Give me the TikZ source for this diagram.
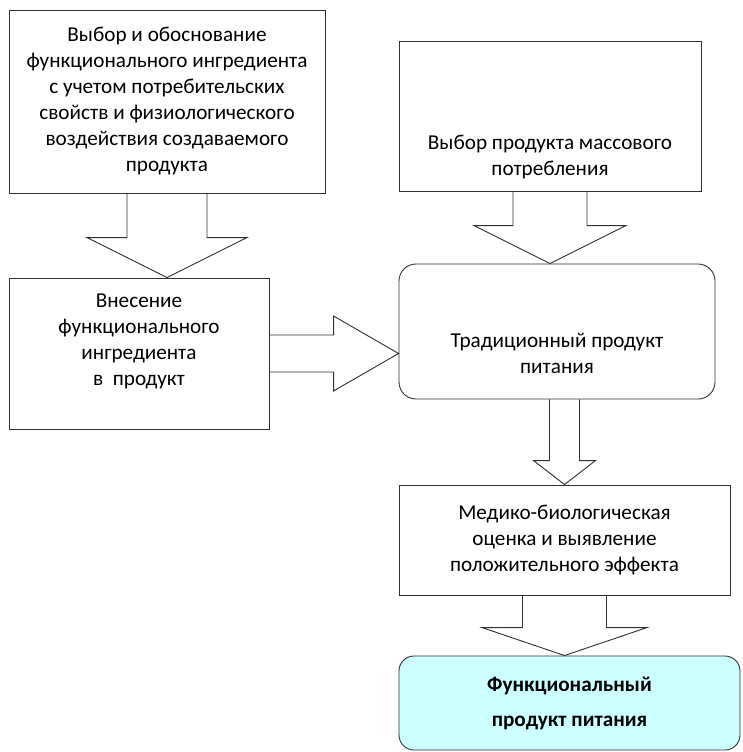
\documentclass[tikz,border=0pt]{standalone}
\usepackage{fontspec}
\setmainfont{Carlito}
\usepackage{xcolor}
\usetikzlibrary{calc}

\definecolor{boxline}{HTML}{303030}
\definecolor{resultfill}{HTML}{CCFFFF}

\tikzset{
  stagebox/.style={draw=boxline, line width=0.9pt, rectangle, inner sep=0pt},
  roundbox/.style={stagebox, rounded corners=17pt},
  stagetext/.style={align=center, font=\fontsize{21.2}{26}\selectfont},
  blockarrow/.style={draw=boxline, line width=0.9pt, line join=miter}
}

% tail, tip, half shaft, half head, head length
\newcommand{\blockarrow}[5]{%
  \path ($(#2)!#5!(#1)$) coordinate (hb);
  \draw[blockarrow] ($(#1)!#3!90:(#2)$) -- ($(hb)!#3!90:(#2)$) -- ($(hb)!#4!90:(#2)$)
    -- (#2) -- ($(hb)!#4!-90:(#2)$) -- ($(hb)!#3!-90:(#2)$) -- ($(#1)!#3!-90:(#2)$);
}

\begin{document}
\begin{tikzpicture}[x=1pt, y=-1pt]
\useasboundingbox (0,0) rectangle (742,752);

\node [stagebox, stagetext, minimum width=316pt, minimum height=183pt] (choice) at (167,101.5) {%
Выбор и обоснование\\
функционального ингредиента\\
с учетом потребительских\\
свойств и физиологического\\
воздействия создаваемого\\
продукта};

\node [stagebox, minimum width=302pt, minimum height=150pt] (mass) at (550,116) {};
\node [stagetext] (masstext) at (550,157) {Выбор продукта массового\\потребления};

\node [stagebox, minimum width=260pt, minimum height=151pt] (adding) at (139,353.5) {};
\node [stagetext] (addingtext) at (139,341) {Внесение\\функционального\\ингредиента\\в~~продукт};

\node [roundbox, minimum width=316pt, minimum height=135pt] (tradition) at (557,331.5) {};
\node [stagetext] (traditiontext) at (557,353) {Традиционный продукт\\питания};

\node [stagebox, stagetext, minimum width=331pt, minimum height=110pt] (medical) at (564.5,540) {%
Медико-биологическая\\
оценка и выявление\\
положительного эффекта};

\node [roundbox, rounded corners=15pt, fill=resultfill, align=center,
       font=\fontsize{21.2}{35}\selectfont\bfseries,
       minimum width=341pt, minimum height=94pt] (result) at (569.5,703) {%
Функциональный\\продукт питания};

% block arrows
\coordinate (choicetip) at (choice.south |- adding.north);
\coordinate (masstip) at (mass.south |- tradition.north);
\coordinate (addingtip) at (adding.east -| tradition.west);
\coordinate (traditiontail) at (medical.north |- tradition.south);
\coordinate (medicaltip) at (medical.south |- result.north);

\blockarrow{choice.south}{choicetip}{40pt}{80pt}{40pt}
\blockarrow{mass.south}{masstip}{37pt}{76pt}{38pt}
\blockarrow{adding.east}{addingtip}{18.5pt}{37.5pt}{65pt}
\blockarrow{traditiontail}{medical.north}{15pt}{31pt}{24pt}
\blockarrow{medical.south}{medicaltip}{42pt}{82.5pt}{28pt}
\end{tikzpicture}
\end{document}
